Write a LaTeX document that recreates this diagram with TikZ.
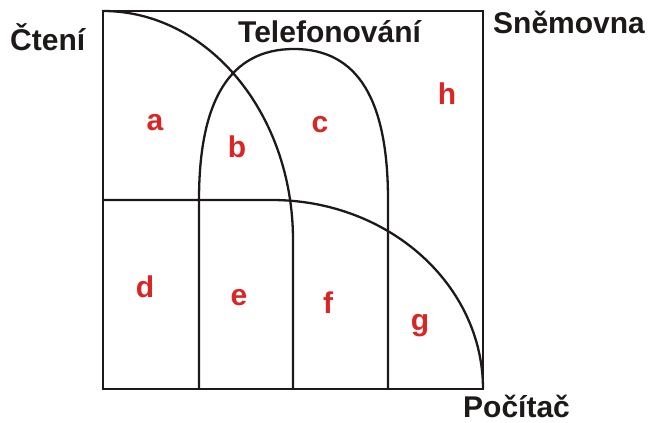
\documentclass[tikz,border=0pt]{standalone}
\usepackage{fontspec}
\setmainfont{Liberation Sans}
\definecolor{lab}{RGB}{218,37,37}
\definecolor{ink}{RGB}{30,25,25}
\begin{document}
\begin{tikzpicture}[x=1pt,y=-1pt,
  curve/.style={draw=ink, line width=2.3pt},
  frame/.style={draw=ink, line width=2.6pt},
  title/.style={font=\fontsize{30}{32}\selectfont\bfseries, text=ink, inner sep=0, anchor=base west},
  region/.style={font=\fontsize{30}{32}\selectfont\bfseries, text=lab, inner sep=0, anchor=base}]
\useasboundingbox (0,0) rectangle (656,423);
\draw[frame] (103,11) rectangle (483,389);
% Čtení
\draw[curve] (103,11) arc[start angle=90, end angle=0, x radius=190pt, y radius=229pt] -- (293,389);
% Telefonování
\draw[curve] (199,389) -- (199,200) .. controls (199,100) and (230,49) .. (294,49)
  .. controls (358,49) and (388,100) .. (388,200) -- (388,389);
% Počítač
\draw[curve] (103,200) -- (272,200) arc[start angle=90, end angle=0, x radius=211pt, y radius=189pt];
% titles
\node[title] (cteni) at (10,50) {Čtení};
\node[title] (telef) at (238,42) {Telefonování};
\node[title] (snem) at (493,33) {Sněmovna};
\node[title] (pocit) at (463,417) {Počítač};
% regions
\node[region] (ra) at (155,130) {a};
\node[region] (rb) at (237,157) {b};
\node[region] (rc) at (320,132) {c};
\node[region] (rh) at (447,104) {h};
\node[region] (rd) at (145,297) {d};
\node[region] (re) at (239,305) {e};
\node[region] (rf) at (328,313) {f};
\node[region] (rg) at (420,330) {g};
\end{tikzpicture}
\end{document}
